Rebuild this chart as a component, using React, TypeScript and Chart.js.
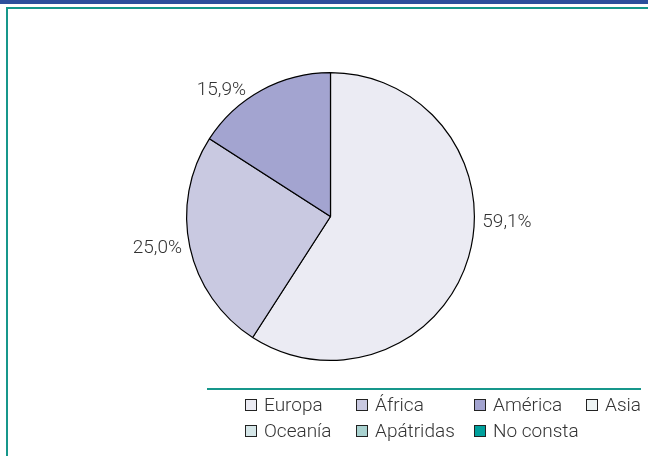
import React, { useEffect, useRef } from "react";
import { Chart, registerables } from "chart.js";

Chart.register(...registerables);

const categories = ["Europa", "África", "América", "Asia", "Oceanía", "Apátridas", "No consta"];
const values = [59.1, 25.0, 15.9, 0, 0, 0, 0];
const valueLabels = ["59,1%", "25,0%", "15,9%", "", "", "", ""];
const colors = ["#ebebf3", "#c9c9e1", "#a3a4d0", "#eef4f4", "#d5e6e8", "#a9d2d0", "#00a09c"];

const TEAL = "#16978b";
const BLUE = "#2d4f9c";
const FONT = "'Roboto', 'Liberation Sans', Arial, sans-serif";

const framePlugin = {
  id: "frame",
  beforeDraw(chart: any) {
    const ctx = chart.ctx;
    ctx.save();
    ctx.fillStyle = "#ffffff";
    ctx.fillRect(0, 0, chart.width, chart.height);
    ctx.fillStyle = BLUE;
    ctx.fillRect(0, 0, chart.width, 4);
    ctx.fillStyle = TEAL;
    ctx.fillRect(6, 7, chart.width - 6, 2);
    ctx.fillRect(6, 7, 2, chart.height - 7);
    ctx.fillRect(207, 388, 434, 2);
    ctx.restore();
  },
};

const labelPlugin = {
  id: "pctLabels",
  afterDatasetsDraw(chart: any, _args: any, opts: any) {
    const ctx = chart.ctx;
    const meta = chart.getDatasetMeta(0);
    ctx.save();
    ctx.font = "300 19px " + FONT;
    ctx.fillStyle = "#333333";
    ctx.textBaseline = "middle";
    meta.data.forEach((arc: any, i: number) => {
      const txt = valueLabels[i];
      if (!txt) return;
      const p = arc.getProps(["x", "y", "startAngle", "endAngle", "outerRadius"], true);
      const nudge = (opts.angleNudge && opts.angleNudge[i]) || 0;
      const mid = (p.startAngle + p.endAngle) / 2 + nudge;
      const r = p.outerRadius + 8;
      const x = p.x + Math.cos(mid) * r;
      const y = p.y + Math.sin(mid) * r;
      ctx.textAlign = Math.cos(mid) >= 0 ? "left" : "right";
      ctx.fillText(txt, x, y);
    });
    ctx.restore();
  },
};

const legendPlugin = {
  id: "customLegend",
  afterDraw(chart: any) {
    const ctx = chart.ctx;
    const colX = [245, 356, 474, 586];
    const rowY = [405, 431];
    ctx.save();
    ctx.font = "300 19px " + FONT;
    ctx.textBaseline = "middle";
    ctx.textAlign = "left";
    categories.forEach((name, i) => {
      const col = i < 4 ? i : i - 4;
      const row = i < 4 ? 0 : 1;
      const bx = colX[col];
      const by = rowY[row] - 6;
      ctx.fillStyle = colors[i];
      ctx.fillRect(bx, by, 12, 12);
      ctx.strokeStyle = "#222222";
      ctx.lineWidth = 1;
      ctx.strokeRect(bx + 0.5, by + 0.5, 11, 11);
      ctx.fillStyle = "#333333";
      ctx.fillText(name, bx + 19, rowY[row] + 1);
    });
    ctx.restore();
  },
};

export default function App() {
  const ref = useRef<HTMLCanvasElement>(null);
  useEffect(() => {
    if (!ref.current) return;
    const chart = new Chart(ref.current, {
      type: "pie",
      data: {
        labels: categories,
        datasets: [
          {
            data: values,
            backgroundColor: colors,
            borderColor: "#000000",
            borderWidth: 1.2,
          },
        ],
      },
      options: {
        responsive: false,
        animation: false,
        layout: { padding: { left: 186, right: 173, top: 72, bottom: 95 } },
        plugins: {
          legend: { display: false },
          tooltip: { enabled: false },
          pctLabels: { angleNudge: [-0.25, 0, -0.09] },
        } as any,
      },
      plugins: [framePlugin, labelPlugin, legendPlugin],
    });
    return () => chart.destroy();
  }, []);
  return (
    <div style={{ position: "absolute", left: 0, top: 0, width: 648, height: 456 }}>
      <canvas ref={ref} width={648} height={456} />
    </div>
  );
}
